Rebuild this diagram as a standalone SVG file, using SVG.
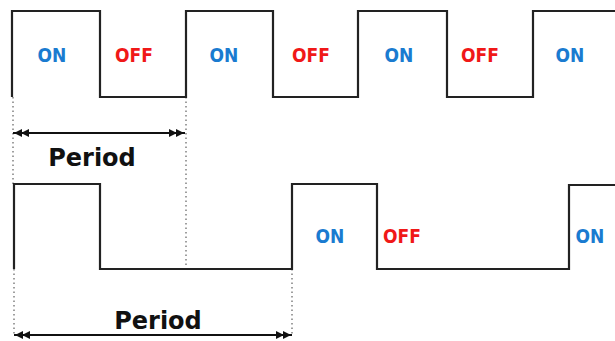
<svg xmlns="http://www.w3.org/2000/svg" width="615" height="341" viewBox="0 0 615 341">
<style>
.wave{fill:none;stroke:#222;stroke-width:2.2;stroke-linejoin:miter}
.dot{fill:none;stroke:#888;stroke-width:1.6;stroke-dasharray:1.5 3}
.dim{fill:none;stroke:#111;stroke-width:2}
.on{font-family:"DejaVu Sans Condensed","DejaVu Sans",Verdana,sans-serif;font-weight:bold;font-size:19px;fill:#1a7bd0;text-anchor:middle}
.off{font-family:"DejaVu Sans Condensed","DejaVu Sans",Verdana,sans-serif;font-weight:bold;font-size:19px;fill:#f01818;text-anchor:middle}
.lbl{font-family:"DejaVu Sans",Verdana,sans-serif;font-weight:bold;font-size:24px;fill:#111;text-anchor:middle}
</style>
<defs>
<marker id="dbl" viewBox="0 0 16 8" refX="16" refY="4" markerWidth="16" markerHeight="8" markerUnits="userSpaceOnUse" orient="auto-start-reverse">
<path d="M0,0 L8,4 L0,8 Z M7,0 L15,4 L7,8 Z" fill="#111"/>
</marker>
</defs>
<g id="guides">
<path class="dot" d="M13,97 V184"/>
<path class="dot" d="M186,97 V269"/>
<path class="dot" d="M14,269 V336"/>
<path class="dot" d="M292,269 V336"/>
</g>
<g id="wave-top">
<path class="wave" d="M12,97 V11 H100 V97 H186 V11 H273 V97 H358 V11 H447 V97 H533 V11 H616"/>
</g>
<g id="wave-bottom">
<path class="wave" d="M14,269 V184 H100 V269 H292 V184 H377 V269 H569 V185 H616"/>
</g>
<g id="labels-top">
<text class="on" x="52" y="62">ON</text>
<text class="off" x="134" y="62">OFF</text>
<text class="on" x="224" y="62">ON</text>
<text class="off" x="311" y="62">OFF</text>
<text class="on" x="399" y="62">ON</text>
<text class="off" x="480" y="62">OFF</text>
<text class="on" x="570" y="62">ON</text>
</g>
<g id="labels-bottom">
<text class="on" x="330" y="243">ON</text>
<text class="off" x="402" y="243">OFF</text>
<text class="on" x="590" y="243">ON</text>
</g>
<g id="connectors">
<path class="dim" d="M13,133 H185" marker-start="url(#dbl)" marker-end="url(#dbl)"/>
<path class="dim" d="M14,335 H292" marker-start="url(#dbl)" marker-end="url(#dbl)"/>
</g>
<g id="period-labels">
<text class="lbl" x="92" y="166">Period</text>
<text class="lbl" x="158" y="329">Period</text>
</g>
</svg>
